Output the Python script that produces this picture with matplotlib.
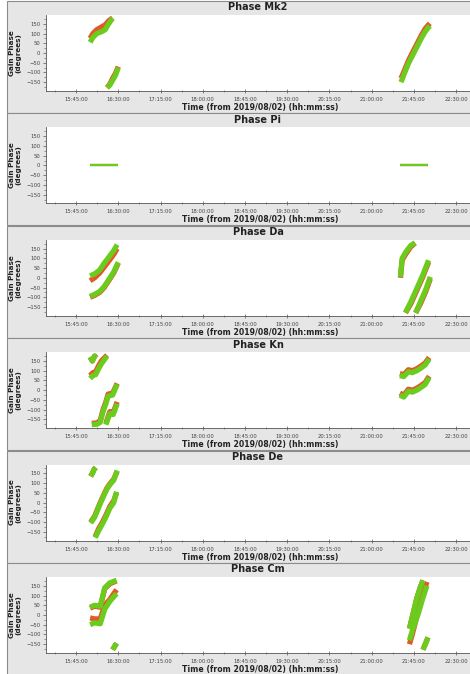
import matplotlib.pyplot as plt
from matplotlib.ticker import MultipleLocator, FuncFormatter
from matplotlib.patches import Rectangle

# gain phase solutions per antenna: (time in hours, green pol, red pol)
MK2 = [
    ([16.00, 16.05, 16.12, 16.21, 16.27, 16.33, 16.40],
     [55, 80, 100, 110, 120, 150, 178],
     [75, 100, 120, 135, 145, 165, 180]),
    ([16.30, 16.35, 16.40, 16.45, 16.50],
     [-178, -165, -140, -115, -75],
     [-178, -160, -130, -105, -70]),
    ([21.52, 21.58, 21.65, 21.72, 21.80, 21.88, 21.95, 22.03],
     [-150, -105, -55, -15, 30, 75, 110, 140],
     [-130, -90, -40, 0, 45, 90, 125, 152]),
]

PI = [
    ([16.00, 16.50], [0, 0], [0, 0]),
    ([21.50, 22.00], [0, 0], [0, 0]),
]

DA = [
    ([16.00, 16.08, 16.17, 16.25, 16.33, 16.42, 16.48],
     [10, 20, 40, 75, 105, 140, 170],
     [-15, 0, 25, 55, 85, 120, 150]),
    ([16.00, 16.08, 16.17, 16.25, 16.33, 16.42, 16.50],
     [-95, -85, -70, -45, -10, 30, 80],
     [-100, -90, -75, -50, -15, 25, 75]),
    ([21.51, 21.54, 21.60, 21.69, 21.77],
     [5, 100, 130, 165, 180],
     [0, 90, 120, 158, 178]),
    ([21.60, 21.70, 21.80, 21.90, 22.01],
     [-178, -120, -55, 10, 90],
     [-180, -130, -65, 0, 80]),
    ([21.78, 21.87, 21.96, 22.04],
     [-180, -120, -60, 5],
     [-180, -130, -70, -5]),
]

KN = [
    ([16.00, 16.04, 16.08, 16.11],
     [170, 150, 175, 165],
     [170, 150, 175, 165]),
    ([16.00, 16.05, 16.10, 16.15, 16.20, 16.25, 16.30],
     [60, 75, 80, 110, 135, 155, 175],
     [75, 90, 95, 125, 150, 165, 180]),
    ([16.03, 16.12, 16.18, 16.23, 16.28, 16.32, 16.40, 16.48],
     [-177, -175, -165, -110, -70, -30, -25, 30],
     [-170, -168, -155, -100, -60, -20, -15, 35]),
    ([16.28, 16.35, 16.41, 16.48],
     [-177, -120, -125, -70],
     [-170, -110, -115, -60]),
    ([21.50, 21.57, 21.65, 21.72, 21.80, 21.88, 21.95, 22.02],
     [75, 70, 95, 90, 100, 115, 130, 160],
     [85, 80, 105, 100, 110, 125, 140, 168]),
    ([21.50, 21.57, 21.65, 21.72, 21.80, 21.88, 21.95, 22.02],
     [-25, -35, -5, -10, 0, 15, 30, 65],
     [-15, -25, 5, 0, 10, 25, 40, 72]),
]

DE = [
    ([16.01, 16.04, 16.07, 16.10],
     [135, 150, 170, 180],
     [135, 150, 170, 180]),
    ([16.01, 16.08, 16.18, 16.25, 16.30, 16.36, 16.42, 16.48],
     [-105, -75, -5, 40, 70, 95, 115, 165],
     [-100, -70, 0, 45, 75, 100, 120, 160]),
    ([16.09, 16.15, 16.21, 16.28, 16.35, 16.42, 16.47],
     [-180, -145, -114, -75, -29, 0, 56],
     [-175, -135, -105, -65, -20, 10, 50]),
]

CM = [
    ([16.00, 16.08, 16.18, 16.26, 16.35, 16.47],
     [40, 50, 45, 140, 165, 178],
     [35, 45, 40, 135, 160, 175]),
    ([16.00, 16.08, 16.18, 16.26, 16.35, 16.47],
     [-50, -40, -45, 30, 70, 110],
     [-15, -20, -20, 50, 80, 130]),
    ([16.40, 16.47], [-178, -145], [-178, -145]),
    ([21.67, 21.72, 21.80, 21.86, 21.91],
     [-70, -10, 85, 140, 178],
     [-70, -10, 85, 140, 178]),
    ([21.67, 21.72, 21.83, 21.90, 21.98],
     [-130, -80, 10, 80, 150],
     [-150, -100, 25, 100, 170]),
    ([21.91, 21.95, 22.00], [-178, -150, -115], [-178, -150, -115]),
]

ANTENNAS = ["Mk2", "Pi", "Da", "Kn", "De", "Cm"]
TRACKS = [MK2, PI, DA, KN, DE, CM]

GREEN = "#6ccc1e"
RED = "#e2582a"
PANEL_BG = "#e6e6e6"
W, H = 470, 674
STEP = 112.4


def hms(x, pos):
    h = int(x)
    m = int(round((x - h) * 60))
    if m == 60:
        h, m = h + 1, 0
    return f"{h:02d}:{m:02d}:00"


fig = plt.figure(figsize=(W / 100, H / 100), dpi=100)
fig.patch.set_facecolor("white")

for i, (name, tracks) in enumerate(zip(ANTENNAS, TRACKS)):
    o = STEP * i
    # grey panel frame behind each plot
    fig.patches.append(Rectangle((7 / W, 1 - (o + 113) / H), 1.0, 112 / H,
                                 transform=fig.transFigure, facecolor=PANEL_BG,
                                 edgecolor="#8c8c8c", lw=0.8, zorder=-10))
    ax = fig.add_axes([46 / W, 1 - (o + 91) / H, (490 - 46) / W, 76 / H])
    ax.set_zorder(1)
    ax.set_facecolor("white")
    lw = 1.6 if name == "Pi" else 3.8
    for t, g, r in tracks:
        ax.plot(t, r, color=RED, lw=lw, solid_capstyle="butt", zorder=2)
        ax.plot(t, g, color=GREEN, lw=lw, solid_capstyle="butt", zorder=3)

    ax.set_xlim(15.217, 23.1)
    ax.set_ylim(-195, 195)
    ax.xaxis.set_major_locator(MultipleLocator(0.75))
    ax.xaxis.set_minor_locator(MultipleLocator(0.375))
    ax.xaxis.set_major_formatter(FuncFormatter(hms))
    ax.yaxis.set_major_locator(MultipleLocator(50))
    ax.yaxis.set_minor_locator(MultipleLocator(25))
    for s in ("top", "right"):
        ax.spines[s].set_visible(False)
    for s in ("left", "bottom"):
        ax.spines[s].set_color("#555555")
        ax.spines[s].set_linewidth(0.6)
    ax.tick_params(axis="both", which="major", labelsize=3.8, colors="#555555",
                   labelcolor="#444444", length=2.5, width=0.5, pad=1.5)
    ax.tick_params(axis="both", which="minor", colors="#555555", length=1.5, width=0.4)
    ax.tick_params(axis="x", which="both", direction="inout", pad=3)

    fig.text(258 / W, 1 - (o + 7.5) / H, f"Phase {name}", ha="center", va="center",
             fontsize=7, fontweight="bold", color="#222222")
    fig.text(260 / W, 1 - (o + 107.5) / H, "Time (from 2019/08/02) (hh:mm:ss)",
             ha="center", va="center", fontsize=5.6, fontweight="bold", color="#222222")
    fig.text(15 / W, 1 - (o + 53) / H, "Gain Phase\n(degrees)", ha="center", va="center",
             rotation=90, fontsize=5.2, fontweight="bold", color="#222222",
             linespacing=1.1)

fig.savefig("out.png", dpi=100)
